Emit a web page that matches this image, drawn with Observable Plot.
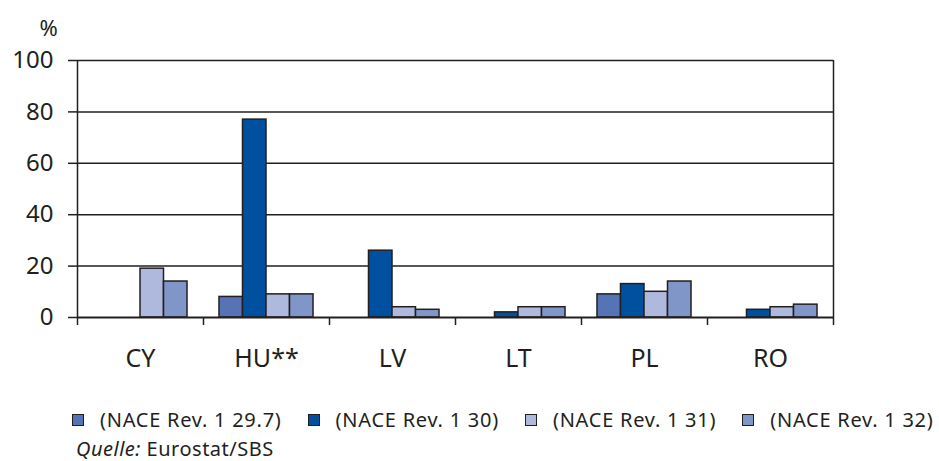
<!DOCTYPE html>
<html><head><meta charset="utf-8">
<script src="https://cdn.jsdelivr.net/npm/d3@7"></script>
<script src="https://cdn.jsdelivr.net/npm/@observablehq/plot@0.6"></script>
<style>
body{margin:0;background:#fff;font-family:"Noto Sans",sans-serif;color:#231f20;width:939px;height:461px;position:relative;overflow:hidden}
#chart{position:absolute;left:0;top:0}
#legend{position:absolute;left:72px;top:406px;display:flex;align-items:center;font-size:20px;line-height:28px;letter-spacing:0.75px;white-space:nowrap}
.item{display:flex;align-items:center;margin-right:26px}
.sw{width:10px;height:10px;border:1.5px solid #231f20;margin-right:16px}
#caption{position:absolute;left:76px;top:437px;font-size:20px;line-height:24px;letter-spacing:0.5px;white-space:nowrap}
</style></head><body>
<div id="chart"></div>
<div id="legend"></div>
<div id="caption"><i>Quelle:</i> Eurostat/SBS</div>
<script>
const categories = ["CY", "HU**", "LV", "LT", "PL", "RO"];
const series = ["(NACE Rev. 1 29.7)", "(NACE Rev. 1 30)", "(NACE Rev. 1 31)", "(NACE Rev. 1 32)"];
const v297 = [null, 8, null, null, 9, null];
const v30 = [null, 77, 26, 2, 13, 3];
const v31 = [19, 9, 4, 4, 10, 4];
const v32 = [14, 9, 3, 4, 14, 5];
const colors = ["#5673b5", "#0050a0", "#aeb9dd", "#8096c9"];
const yTicks = [0, 20, 40, 60, 80, 100];

const values = [v297, v30, v31, v32];
const po = 0.68, den = series.length + 2 * po;
const rows = categories.flatMap((c, i) => values.map((vals, j) => ({
  cat: c, series: series[j], value: vals[i],
  x1: i + (po + j) / den, x2: i + (po + j + 1) / den
}))).filter(d => d.value != null);

const ink = "#231f20";
const chart = Plot.plot({
  width: 939, height: 385,
  marginTop: 60, marginLeft: 77, marginRight: 106, marginBottom: 68,
  style: {fontFamily: "Noto Sans", fontSize: "24px", color: ink, background: "white"},
  x: {type: "linear", domain: [0, categories.length], axis: null},
  y: {domain: [0, 100], axis: null},
  color: {domain: series, range: colors},
  marks: [
    Plot.ruleY(yTicks.slice(1), {stroke: ink, strokeWidth: 1.5}),
    Plot.rect(rows, {x1: "x1", x2: "x2", y1: 0, y2: "value", fill: "series", stroke: ink, strokeWidth: 1.5}),
    Plot.ruleX([0, categories.length], {y1: 0, y2: 100, stroke: ink, strokeWidth: 1.5}),
    Plot.ruleY([0], {stroke: ink, strokeWidth: 2}),
    Plot.axisY({ticks: yTicks, tickSize: 9, tickPadding: 15, tickFormat: d => String(d), label: null, stroke: ink, strokeWidth: 1.5, fill: ink, fontSize: 24}),
    Plot.axisX({ticks: d3.range(categories.length + 1), tickSize: 8, tickFormat: () => "", label: null, stroke: ink, strokeWidth: 1.5}),
    Plot.axisX({ticks: categories.map((c, i) => i + 0.5), tickSize: 0, tickPadding: 32, tickFormat: t => categories[Math.floor(t)], label: null, fill: ink, fontSize: 25}),
    Plot.text(["%"], {frameAnchor: "top-left", text: d => d, dx: -38, dy: -40, fill: ink, fontSize: 22})
  ]
});
document.getElementById("chart").appendChild(chart);

const legend = document.getElementById("legend");
series.forEach((s, j) => {
  const it = document.createElement("div");
  it.className = "item";
  const sw = document.createElement("span");
  sw.className = "sw";
  sw.style.background = colors[j];
  const t = document.createElement("span");
  t.textContent = s;
  it.appendChild(sw); it.appendChild(t);
  legend.appendChild(it);
});
</script>
</body></html>
